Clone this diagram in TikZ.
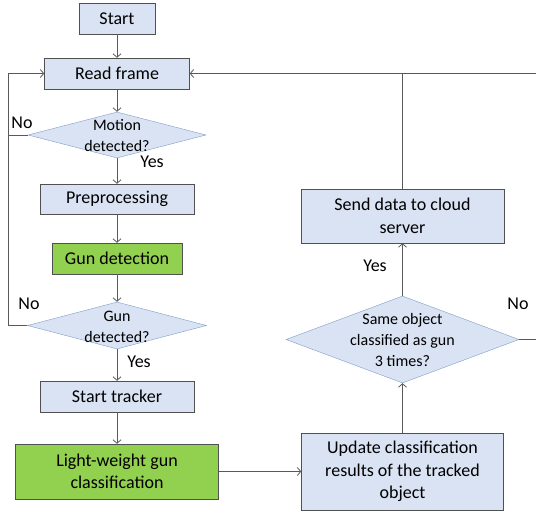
\documentclass[tikz,border=0pt]{standalone}
\usepackage{fontspec}
\setmainfont{Carlito}
\usetikzlibrary{shapes.geometric,arrows.meta}
\definecolor{boxblue}{HTML}{DAE3F3}
\definecolor{boxgreen}{HTML}{92D050}
\definecolor{diamline}{HTML}{7F9DC9}
\definecolor{flowline}{HTML}{595959}
\begin{document}
\begin{tikzpicture}[x=1pt,y=-1pt,
  box/.style={draw=flowline!90!black,fill=boxblue,rectangle,inner sep=0pt,align=center,
    font=\fontsize{18}{22.5}\selectfont},
  gbox/.style={box,fill=boxgreen},
  decision/.style={draw=diamline,fill=boxblue,diamond,inner sep=0pt},
  dtext/.style={align=center,inner sep=0pt,font=\fontsize{16}{21}\selectfont},
  lbl/.style={inner sep=0pt,font=\fontsize{18}{22}\selectfont},
  flow/.style={draw=flowline,line width=0.8pt,-{Straight Barb[length=3.5pt,width=8pt]}},
  plain/.style={draw=flowline,line width=0.8pt}]
\useasboundingbox (0,0) rectangle (536,512);
\node[box,minimum width=76,minimum height=31] (start) at (117,18.5) {Start};
\node[box,minimum width=145,minimum height=31] (read) at (117,73.5) {Read frame};
\node[decision,minimum width=178,minimum height=46] (motion) at (117,135) {};
\node[dtext] (motiontxt) at (117,136) {Motion\\detected?};
\node[box,minimum width=154,minimum height=30] (prep) at (117,199) {Preprocessing};
\node[gbox,minimum width=130,minimum height=31] (gundet) at (117,258.5) {Gun detection};
\node[decision,minimum width=179,minimum height=47] (gunq) at (117,325.5) {};
\node[dtext] (gunqtxt) at (117,327) {Gun\\detected?};
\node[box,minimum width=154,minimum height=31] (tracker) at (117,396.5) {Start tracker};
\node[gbox,minimum width=203,minimum height=55] (light) at (117,471.5) {Light-weight gun\\classification};
\node[box,minimum width=202,minimum height=77] (update) at (402.5,471.5) {Update classification\\results of the tracked\\object};
\node[decision,minimum width=233,minimum height=87] (same) at (402.5,339.5) {};
\node[dtext] (sametxt) at (402.5,340) {Same object\\classified as gun\\3 times?};
\node[box,minimum width=203,minimum height=54] (send) at (402.5,216) {Send data to cloud\\server};
\coordinate (loopleft) at (8,325.5);
\coordinate (topright) at (536,73.5);
\coordinate (noright) at (536,339.5);
\draw[flow] (start) -- (read);
\draw[flow] (read) -- (motion);
\draw[flow] (motion) -- (prep);
\draw[flow] (prep) -- (gundet);
\draw[flow] (gundet) -- (gunq);
\draw[flow] (gunq) -- (tracker);
\draw[flow] (tracker) -- (light);
\draw[flow] (light) -- (update);
\draw[flow] (update) -- (same);
\draw[flow] (same) -- (send);
\draw[plain] (send.north) -- (send.north |- topright);
\draw[flow] (topright) -- (read.east);
\draw[plain] (same.east) -- (noright);
\draw[flow] (gunq.west) -- (loopleft) |- (read.west);
\draw[plain] (motion.west) -- (motion.west -| loopleft);
\node[lbl] (nomotion) at (22,123) {No};
\node[lbl] (yesmotion) at (152,162) {Yes};
\node[lbl] (nogun) at (29,304) {No};
\node[lbl] (yesgun) at (139,362) {Yes};
\node[lbl] (yessame) at (375,266) {Yes};
\node[lbl] (nosame) at (518,304) {No};
\end{tikzpicture}
\end{document}
